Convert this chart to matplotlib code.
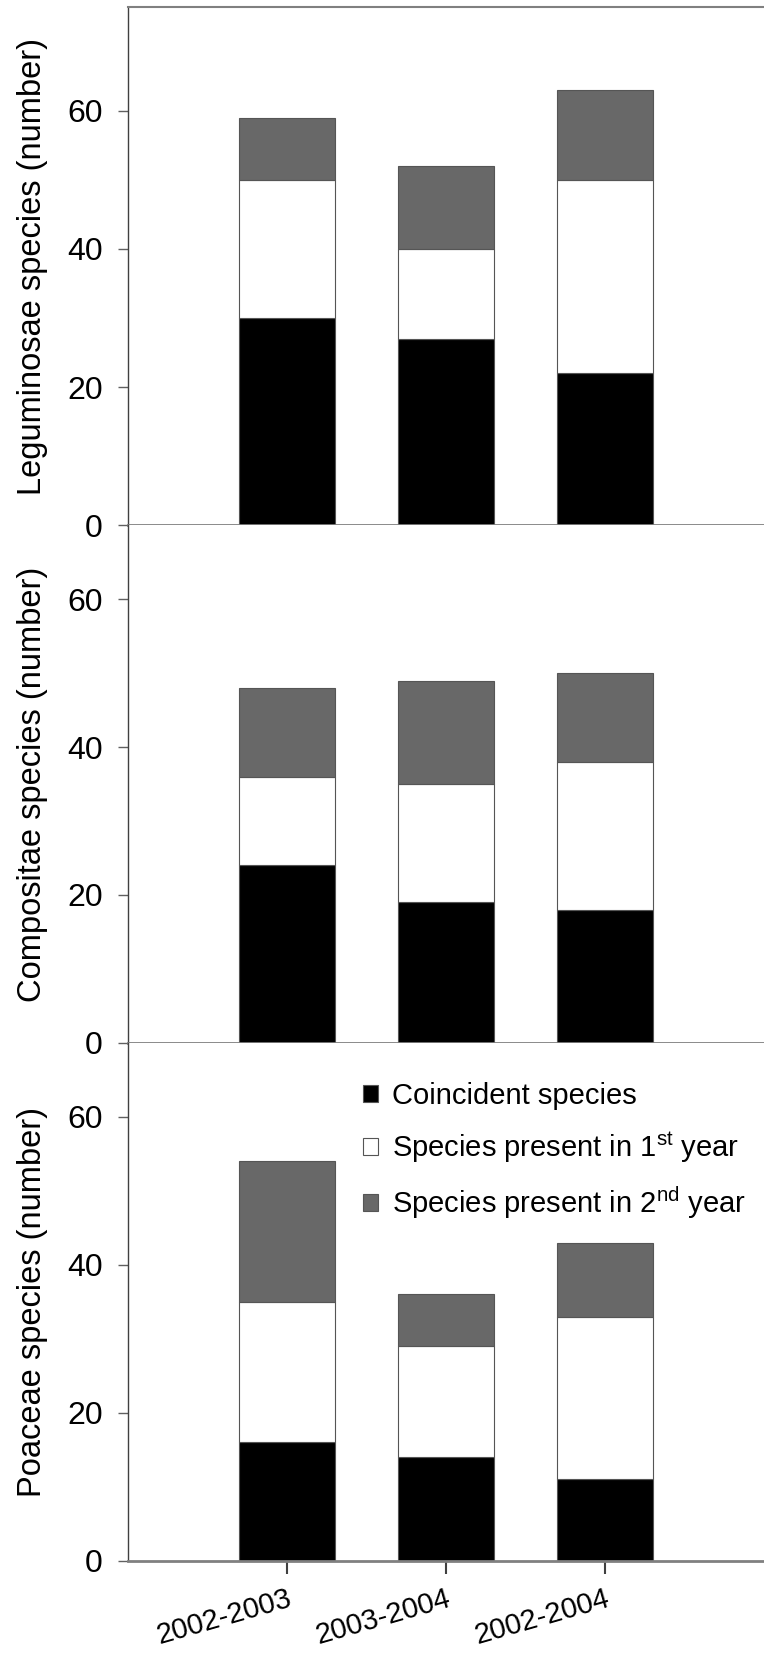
import matplotlib
matplotlib.use("Agg")
import matplotlib.pyplot as plt
import numpy as np
from matplotlib.patches import Patch

plt.rcParams['font.family'] = ['Liberation Sans', 'DejaVu Sans']
plt.rcParams['mathtext.fontset'] = 'custom'
plt.rcParams['mathtext.rm'] = 'Liberation Sans'

periods = ['2002-2003', '2003-2004', '2002-2004']

# species counts per segment
legum_coinc = [30, 27, 22]
legum_first = [20, 13, 28]
legum_second = [9, 12, 13]

compo_coinc = [24, 19, 18]
compo_first = [12, 16, 20]
compo_second = [12, 14, 12]

poace_coinc = [16, 14, 11]
poace_first = [19, 15, 22]
poace_second = [19, 7, 10]

ylabels = ['Leguminosae species (number)',
           'Compositae species (number)',
           'Poaceae species (number)']
ytop = [75, 70, 70]
yticks = [0, 20, 40, 60]

legend_labels = ['Coincident species',
                 'Species present in 1$^{\\rm st}$ year',
                 'Species present in 2$^{\\rm nd}$ year']

BLACK = '#000000'
WHITE = '#ffffff'
GREY = '#686868'
EDGE = '#555555'

fig = plt.figure(figsize=(7.64, 16.53), dpi=100)
left, width = 0.1672, 0.8328
boxes = [(0.6821, 0.3137), (0.3692, 0.3129), (0.0558, 0.3134)]

data = [(legum_coinc, legum_first, legum_second),
        (compo_coinc, compo_first, compo_second),
        (poace_coinc, poace_first, poace_second)]

x = np.arange(len(periods))
axes = []
for i, (bottom, height) in enumerate(boxes):
    ax = fig.add_axes([left, bottom, width, height])
    axes.append(ax)
    coinc, first, second = [np.array(v) for v in data[i]]
    ax.bar(x, coinc, width=0.6, color=BLACK, edgecolor=EDGE, linewidth=0.8)
    ax.bar(x, first, width=0.6, bottom=coinc, color=WHITE, edgecolor=EDGE, linewidth=0.8)
    ax.bar(x, second, width=0.6, bottom=coinc + first, color=GREY, edgecolor=EDGE, linewidth=0.8)

    ax.set_xlim(-1, 3)
    ax.set_ylim(0, ytop[i])
    ax.set_yticks(yticks)
    ax.set_ylabel(ylabels[i], fontsize=23.5, labelpad=14)

    ax.spines['right'].set_visible(False)
    ax.spines['left'].set_color('#404040')
    ax.spines['left'].set_linewidth(1.0)
    ax.spines['bottom'].set_color('#808080')
    ax.spines['bottom'].set_linewidth(2.0)
    if i == 0:
        ax.spines['top'].set_color('#808080')
        ax.spines['top'].set_linewidth(1.5)
    else:
        ax.spines['top'].set_visible(False)

    ax.tick_params(axis='y', direction='out', length=7, width=1, color='#606060',
                   pad=11, labelsize=23)
    if i < 2:
        ax.tick_params(axis='x', bottom=False, labelbottom=False)
    else:
        ax.set_xticks(x)
        ax.set_xticklabels(periods, rotation=16, ha='right', va='top',
                           rotation_mode='anchor', fontsize=21)
        ax.tick_params(axis='x', direction='out', length=9, width=1.5,
                       color='#404040', pad=8)

handles = [Patch(facecolor=BLACK, edgecolor=EDGE, linewidth=0.8),
           Patch(facecolor=WHITE, edgecolor=EDGE, linewidth=0.8),
           Patch(facecolor=GREY, edgecolor=EDGE, linewidth=0.8)]
axes[2].legend(handles, legend_labels, loc='upper left', bbox_to_anchor=(0.37, 0.925),
               frameon=False, fontsize=21, handlelength=0.5, handleheight=0.5,
               handletextpad=0.5, labelspacing=0.68, borderpad=0, borderaxespad=0)

fig.savefig('out.png', dpi=100)
